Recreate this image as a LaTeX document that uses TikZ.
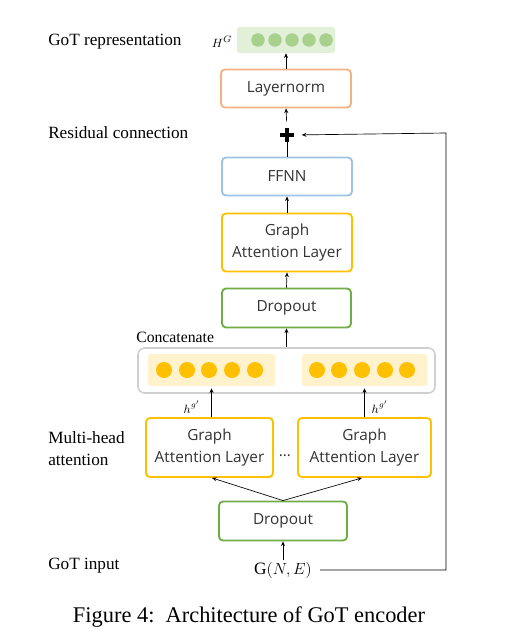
\documentclass[tikz,border=0pt]{standalone}
\usepackage{fontspec}
\setmainfont{Liberation Serif}
\newfontfamily\boxfont{Open Sans}
\usetikzlibrary{arrows.meta,calc}
\definecolor{repfill}{HTML}{E2F0D9}
\definecolor{repdot}{HTML}{A9D18E}
\definecolor{lnorm}{HTML}{F4B183}
\definecolor{ffnn}{HTML}{9DC3E6}
\definecolor{gal}{HTML}{FFC000}
\definecolor{drop}{HTML}{70AD47}
\definecolor{catborder}{HTML}{D0D0D0}
\definecolor{catfill}{HTML}{FFF2CC}
\tikzset{
  box/.style={draw, rounded corners=3pt, line width=1.4pt, fill=white, inner sep=0pt,
    font=\boxfont\fontsize{11.5}{16}\selectfont, align=center, text=black!80},
  arr/.style={-{Stealth[length=3.5pt,width=3pt]}, line width=0.5pt},
  plain/.style={line width=0.5pt},
  sidelabel/.style={anchor=west, font=\fontsize{12.9}{16.5}\selectfont, align=left, inner sep=0pt},
  dot/.style={circle, inner sep=0pt},
}
\begin{document}
\begin{tikzpicture}[x=0.75pt,y=-0.75pt]
\useasboundingbox (0,0) rectangle (528,638);
% top representation
\node[fill=repfill, rounded corners=2pt, minimum width=98*0.75pt, minimum height=26*0.75pt] (rep) at (286,40) {};
\foreach \i/\xx in {1/258,2/275,3/292,4/309,5/326}
  \node[dot, fill=repdot, minimum size=13.5*0.75pt] (rd\i) at (\xx,40) {};
\node (hG) at (222,42) {\fontsize{9.5}{11}\selectfont$H^{G}$};
% layernorm
\node[box, draw=lnorm, minimum width=130*0.75pt, minimum height=38*0.75pt] (ln) at (286,88.5) {Layernorm};
% plus
\node[minimum size=13*0.75pt, inner sep=0pt] (plus) at (287,135) {};
\draw[line width=2.4pt] (plus.north) -- (plus.south) (plus.west) -- (plus.east);
% FFNN
\node[box, draw=ffnn, minimum width=130*0.75pt, minimum height=38*0.75pt] (ffnn) at (287,176.5) {FFNN};
% GAL top
\node[box, draw=gal, minimum width=130*0.75pt, minimum height=58*0.75pt] (galT) at (287,242.5) {Graph\\Attention Layer};
% Dropout top
\node[box, draw=drop, minimum width=129*0.75pt, minimum height=39*0.75pt] (dropT) at (286.5,308) {Dropout};
% concatenate
\node[draw=catborder, line width=1.2pt, rounded corners=5pt, fill=white, minimum width=297*0.75pt, minimum height=45*0.75pt] (cat) at (286.5,370.5) {};
\node[fill=catfill, rounded corners=2pt, minimum width=127*0.75pt, minimum height=32*0.75pt] (inL) at (211.5,370) {};
\node[fill=catfill, rounded corners=2pt, minimum width=125*0.75pt, minimum height=32*0.75pt] (inR) at (364.5,370) {};
\foreach \i/\xx in {1/164,2/187,3/209,4/232,5/255}
  \node[dot, fill=gal, minimum size=16*0.75pt] (cl\i) at (\xx,370) {};
\foreach \i/\xx in {1/317,2/339,3/362,4/385,5/407}
  \node[dot, fill=gal, minimum size=16*0.75pt] (cr\i) at (\xx,370) {};
\node[anchor=west, inner sep=0pt, font=\fontsize{11.8}{14}\selectfont] (catlbl) at (136,337) {Concatenate};
% GAL bottom
\node[box, draw=gal, minimum width=127*0.75pt, minimum height=59*0.75pt] (galL) at (209.5,447.5) {Graph\\Attention Layer};
\node[box, draw=gal, minimum width=133*0.75pt, minimum height=59*0.75pt] (galR) at (364.5,447.5) {Graph\\Attention Layer};
\node[font=\boxfont\fontsize{11.5}{14}\selectfont, text=black!80] (dots) at (285,456) {\dots};
\node (hL) at (192,407) {\fontsize{9}{11}\selectfont$h^{g'}$};
\node (hR) at (380,407) {\fontsize{9}{11}\selectfont$h^{g'}$};
% Dropout bottom
\node[box, draw=drop, minimum width=128*0.75pt, minimum height=39*0.75pt] (dropB) at (283,521) {Dropout};
% input
\node[inner sep=1pt] (gin) at (283,570) {\fontsize{13}{15}\selectfont$\mathrm{G}(N,E)$};
\coordinate (cr) at (446,570);
\coordinate (ct) at (446,133);
% side labels
\node[sidelabel] (l1) at (48,42) {GoT representation};
\node[sidelabel] (l2) at (48,133) {Residual connection};
\node[sidelabel, text width=110*0.75pt] (l3) at (48,449) {Multi-head\\attention};
\node[sidelabel] (l4) at (48,566) {GoT input};
\node[font=\fontsize{16.8}{19}\selectfont] (cap) at (249,617) {Figure 4:\ \ Architecture of GoT encoder};
% connectors
\draw[arr] (ln.north) -- (rep.south);
\draw[arr, shorten <=5pt] (plus.north) -- (ln.south);
\draw[plain] (ffnn.north) -- (plus.south);
\draw[arr] (galT.north) -- (ffnn.south);
\draw[arr] (dropT.north) -- (galT.south);
\draw[arr] (cat.north) -- (dropT.south);
\draw[arr] (galL.north -| inL.south) -- ([yshift=-1.5pt]inL.south);
\draw[arr] (galR.north -| inR.south) -- ([yshift=-1.5pt]inR.south);
\draw[arr] (dropB.north) -- ([xshift=2.5*0.75pt]galL.south);
\draw[arr] (dropB.north) -- ([xshift=-2.5*0.75pt]galR.south);
\draw[arr] (gin.north) -- (dropB.south);
\draw[arr, shorten >=6pt] ([xshift=5pt]gin.east) -- (cr) -- (ct) -- (plus.east);
\end{tikzpicture}
\end{document}
